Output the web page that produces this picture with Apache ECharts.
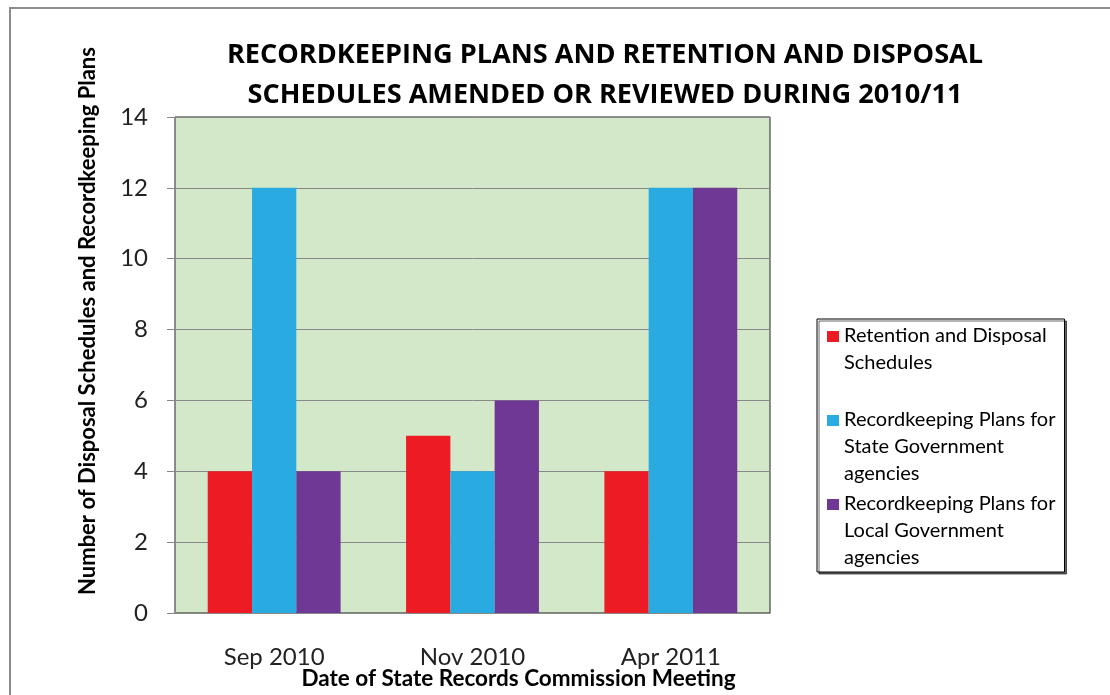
<!DOCTYPE html>
<html>
<head>
<meta charset="utf-8">
<script src="https://cdn.jsdelivr.net/npm/echarts@6/dist/echarts.min.js"></script>
<style>
html,body{margin:0;padding:0;background:#fff;}
#c{width:1110px;height:695px;}
</style>
</head>
<body>
<div id="c"></div>
<script>
const categories = ['Sep 2010', 'Nov 2010', 'Apr 2011'];
const seriesNames = [
  'Retention and Disposal\nSchedules\n ',
  'Recordkeeping Plans for\nState Government\nagencies',
  'Recordkeeping Plans for\nLocal Government\nagencies'
];
const retentionDisposal = [4, 5, 4];
const stateGovPlans = [12, 4, 12];
const localGovPlans = [4, 6, 12];
const yTicks = [0, 2, 4, 6, 8, 10, 12, 14];
const colors = ['#ED1C24', '#29ABE2', '#6F3894'];

const FONT = 'Lato';
const chart = echarts.init(document.getElementById('c'), null, {renderer: 'canvas'});
const iconPath = 'path://M0,0L0,0M0,9H12V20H0ZM12,81L12,81';

chart.setOption({
  animation: false,
  backgroundColor: '#fff',
  title: {
    text: 'RECORDKEEPING PLANS AND RETENTION AND DISPOSAL\nSCHEDULES AMENDED OR REVIEWED DURING 2010/11',
    left: 600,
    top: 30,
    textAlign: 'center',
    textStyle: {fontFamily: 'Open Sans', fontWeight: 'bold', fontSize: 27.1, lineHeight: 40, color: '#000'}
  },
  graphic: [{
    type: 'rect',
    shape: {x: 10, y: 8, width: 1300, height: 900},
    style: {fill: 'none', stroke: '#8c8c8c', lineWidth: 2},
    silent: true
  }],
  legend: {
    orient: 'vertical',
    left: 817,
    top: 319,
    padding: [3, 9, 1, 10],
    itemGap: 3,
    itemWidth: 12,
    itemHeight: 81,
    icon: iconPath,
    backgroundColor: '#fff',
    borderColor: '#000',
    borderWidth: 1,
    shadowColor: 'rgba(0,0,0,0.6)',
    shadowOffsetX: 2,
    shadowOffsetY: 2,
    shadowBlur: 0,
    textStyle: {fontFamily: FONT, fontSize: 20, lineHeight: 27, color: '#000'},
    data: seriesNames
  },
  grid: {
    left: 175, right: 340, top: 117, bottom: 82,
    outerBoundsMode: 'none',
    containLabel: false,
    show: true,
    backgroundColor: '#D3E8C8',
    borderColor: '#222',
    borderWidth: 1
  },
  xAxis: {
    type: 'category',
    data: categories,
    name: 'Date of State Records Commission Meeting',
    nameLocation: 'middle',
    nameGap: 54,
    nameMoveOverlap: false,
    nameTextStyle: {fontFamily: FONT, fontWeight: 'bold', fontSize: 22.5, color: '#000', padding: [0, 0, 0, 92]},
    axisLine: {lineStyle: {color: '#888', width: 1}},
    axisTick: {length: 12, lineStyle: {color: '#888'}},
    axisLabel: {fontFamily: FONT, fontSize: 24, color: '#222', margin: 32}
  },
  yAxis: {
    type: 'value',
    min: 0,
    max: 14,
    interval: 2,
    name: 'Number of Disposal Schedules and Recordkeeping Plans',
    nameLocation: 'middle',
    nameGap: 76,
    nameMoveOverlap: false,
    nameTextStyle: {fontFamily: FONT, fontWeight: 'bold', fontSize: 22, color: '#000', padding: [0, 0, 0, 88]},
    axisLine: {show: true, lineStyle: {color: '#888', width: 1}},
    axisTick: {show: true, length: 8, lineStyle: {color: '#888'}},
    axisLabel: {fontFamily: FONT, fontSize: 24, color: '#222', margin: 27,
      formatter: v => yTicks.includes(v) ? String(v) : ''},
    splitLine: {lineStyle: {color: '#888', width: 1}}
  },
  series: [retentionDisposal, stateGovPlans, localGovPlans].map((d, i) => ({
    name: seriesNames[i],
    type: 'bar',
    data: d,
    barGap: '0%',
    barCategoryGap: '33%',
    itemStyle: {color: colors[i]}
  }))
});
</script>
</body>
</html>
